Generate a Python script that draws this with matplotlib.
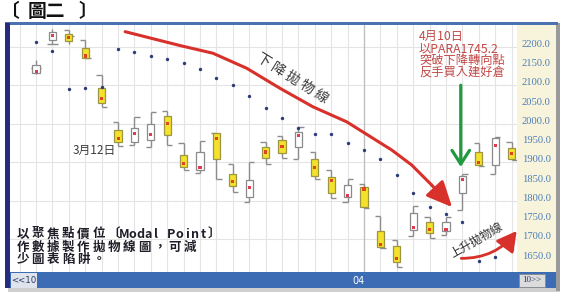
import matplotlib
matplotlib.use('Agg')
import matplotlib.pyplot as plt
from matplotlib.patches import Rectangle
import numpy as np

# ---------------- data ----------------
highs = [2165, 2246, 2243, 2217, 2126, 2005, 2018, 2030, 2033, 1950,
         1955, 1975, 1897, 1900, 1953, 1969, 1992, 1927, 1880, 1856,
         1843, 1761, 1698, 1787, 1759, 1759, 1869, 1949, 1966, 1953]
box_tops = [2152, 2238, 2232, 2197, 2092, 1984, 1990, 1999, 2021, 1919,
            1926, 1975, 1871, 1854, 1940, 1958, 1978, 1908, 1861, 1841,
            1837, 1722, 1683, 1768, 1744, 1746, 1864, 1927, 1962, 1936]
box_bottoms = [2131, 2217, 2215, 2170, 2053, 1952, 1952, 1958, 1972, 1889,
               1880, 1910, 1839, 1809, 1912, 1923, 1940, 1865, 1820, 1811,
               1785, 1681, 1642, 1724, 1718, 1722, 1820, 1893, 1894, 1910]
modal = [2135, 2230, 2223, 2176, 2066, 1962, 1975, 1973, 2001, 1896,
         1887, 1962, 1850, 1834, 1927, 1942, 1969, 1886, 1854, 1815,
         1831, 1688, 1651, 1730, 1727, 1727, 1856, 1899, 1943, 1923]
lows = [2128, 2206, 2206, 2170, 2044, 1942, 1945, 1940, 1944, 1879,
        1872, 1858, 1824, 1796, 1897, 1912, 1908, 1857, 1807, 1798,
        1781, 1677, 1629, 1710, 1703, 1711, 1776, 1890, 1871, 1906]
opens = [2145, 2206, 2243, 2217, 2126, 2005, 1945, 1940, 2033, 1950,
         1872, 1975, 1897, 1796, 1953, 1969, 1908, 1927, 1880, 1798,
         1843, 1761, 1698, 1710, 1759, 1711, 1776, 1949, 1871, 1953]
closes = [2145, 2206, 2228, 2170, 2044, 1942, 2018, 2030, 1944, 1879,
          1955, 1858, 1824, 1900, 1897, 1912, 1992, 1857, 1807, 1856,
          1781, 1677, 1629, 1787, 1703, 1759, 1869, 1890, 1966, 1906]
direction = ['up', 'up', 'down', 'down', 'down', 'down', 'up', 'up', 'down', 'down',
             'up', 'down', 'down', 'up', 'down', 'down', 'up', 'down', 'down', 'up',
             'down', 'down', 'down', 'up', 'down', 'up', 'up', 'down', 'up', 'down']
sar = [2213, 2189, 2090, 2092, 2095, 2194, 2185, 2176, 2168, 2158,
       2142, 2119, 2100, 2073, 2042, 2014, 1988, 1973, 1973, 1951,
       1932, 1908, 1867, 1821, 1785, 1765, 1745.2, 1645, 1655, 1674]
price_ticks = [2200, 2150, 2100, 2050, 2000, 1950, 1900, 1850, 1800, 1750, 1700, 1650]
price_labels = ['2200.0', '2150.0', '2100.0', '2050.0', '2000.0', '1950.0',
                '1900.0', '1850.0', '1800.0', '1750.0', '1700.0', '1650.0']
grid_levels = [1700, 1800, 1900, 2000, 2100, 2200]
month_label = '04'
month_start_index = 20

# ---------------- figure ----------------
W, H = 566, 297
fig = plt.figure(figsize=(W / 100, H / 100), dpi=100)
fig.patch.set_facecolor('white')
CJK = ['Noto Sans CJK TC', 'DejaVu Sans']


def fx(x):
    return x / W


def fy(y):
    return 1 - y / H


YLIM = (1615.6, 2256.3)
ax = fig.add_axes([fx(10), fy(272), (517 - 10) / W, (272 - 25) / H])
ax.set_xlim(-1.59, 29.33)
ax.set_ylim(*YLIM)
for s in ax.spines.values():
    s.set_visible(False)
ax.set_xticks(np.arange(-1, 30))
ax.set_yticks(grid_levels)
ax.tick_params(length=0, labelbottom=False, labelleft=False)
ax.grid(True, color='#e4e4e4', lw=0.8)
ax.set_axisbelow(True)
ax.axvline(month_start_index, color='#bdbdbd', lw=0.9, zorder=1)

x = np.arange(len(highs))
is_up = np.array([d == 'up' for d in direction])
fills = np.where(is_up, '#ffffff', '#f3e12b')
edges = np.where(is_up, '#8a8a8a', '#9c9643')
dotc = np.where(is_up, '#e23b4f', '#e0461e')

ax.vlines(x, lows, highs, color='#8c8c8c', lw=1.0, zorder=2)
ax.hlines(opens, x - 0.32, x, color='#8c8c8c', lw=1.0, zorder=2)
ax.hlines(closes, x, x + 0.32, color='#8c8c8c', lw=1.0, zorder=2)
ax.bar(x, np.array(box_tops) - np.array(box_bottoms), bottom=box_bottoms,
       width=0.44, color=fills, edgecolor=edges, linewidth=0.9, zorder=3)
ax.scatter(x, modal, marker='s', s=5, c=dotc, linewidths=0, zorder=4)
ax.scatter(x, sar, marker='o', s=6, c='#2d3b78', linewidths=0, zorder=4)

RED = '#d8302a'
# descending parabola guide
curve_x = [5.43, 8.78, 10.79, 12.85, 14.88, 16.89, 18.95, 21.69, 22.91, 24.13]
curve_y = [2239, 2203, 2183, 2144, 2092, 2044, 2005, 1932, 1893, 1841]
ax.plot(curve_x, curve_y, color=RED, lw=2.2, solid_capstyle='round',
        solid_joinstyle='round', zorder=5)
ax.annotate('', xy=(25.37, 1784), xytext=(24.13, 1841),
            arrowprops=dict(arrowstyle='-|>,head_length=1.3,head_width=0.6',
                            color=RED, lw=2.2, mutation_scale=12,
                            shrinkA=0, shrinkB=0), zorder=5)
ax.text(15.64, 2119, '下 降 拋 物 線', rotation=-32, rotation_mode='anchor',
        ha='center', va='center', fontsize=10, color='#3a3a3a', family=CJK)

# green arrow
ax.annotate('', xy=(25.9, 1888), xytext=(25.9, 2100),
            arrowprops=dict(arrowstyle='->,head_length=0.7,head_width=0.45',
                            color='#1f9a3f', lw=2.3, mutation_scale=14,
                            shrinkA=0, shrinkB=0), zorder=5)

# ascending arrow
ax.annotate('', xy=(29.31, 1722), xytext=(25.93, 1651),
            arrowprops=dict(arrowstyle='-|>,head_length=1.0,head_width=0.55',
                            color=RED, lw=2.0, mutation_scale=12,
                            connectionstyle='arc3,rad=0.25',
                            shrinkA=0, shrinkB=0), zorder=5)
ax.text(26.87, 1699, '上升拋物線', rotation=30, rotation_mode='anchor',
        ha='center', va='center', fontsize=8.5, color='#2e2e2e', family=CJK)

ax.text(3.54, 1932, '3月12日', ha='center', va='center', fontsize=8.5,
        color='#3c3c3c', family=CJK)

note = ['4月10日', '以PARA1745.2', '突破下降轉向點', '反手買入建好倉']
for txt, py in zip(note, [2226, 2194, 2163, 2133]):
    ax.text(23.35, py, txt, ha='left', va='center', fontsize=8.8,
            color='#c24a48', family=CJK)

# right price panel
axr = fig.add_axes([fx(517), fy(272), (556 - 517) / W, (272 - 25) / H])
axr.set_facecolor('#f8f4dc')
axr.set_xlim(0, 1)
axr.set_ylim(*YLIM)
for s in axr.spines.values():
    s.set_visible(False)
axr.set_xticks([])
axr.set_yticks([])
for p, lab in zip(price_ticks, price_labels):
    axr.text(0.49, p, lab, ha='center', va='baseline', fontsize=7.6,
             family='Liberation Serif', color='#4b7db8')

# frame decorations
def rect(x0, y0, x1, y1, color, **kw):
    fig.add_artist(Rectangle((fx(x0), fy(y1)), (x1 - x0) / W, (y1 - y0) / H,
                             transform=fig.transFigure, facecolor=color,
                             edgecolor=kw.pop('edgecolor', 'none'),
                             lw=kw.pop('lw', 0), **kw))

rect(8, 288, 560, 292, '#cfcfcf')
rect(556, 23, 560, 291, '#9a9a9a')
rect(5, 22, 558, 24.5, '#4a72b0')
rect(10, 272, 556, 288, '#3c6db4')
rect(5, 23, 10, 288, '#262b7c')
rect(10.5, 273, 37, 287.5, '#dfe3eb')
rect(519, 273.5, 545, 287, '#dcdcdc', edgecolor='#8a8a8a', lw=0.6)
fig.text(fx(23.5), fy(280.5), '<<10', fontsize=6.2, color='#2b3a6a',
         ha='center', va='center')
fig.text(fx(532), fy(280.5), '10>>', fontsize=6.5, color='#2b3a6a',
         ha='center', va='center', family='Liberation Serif')
fig.text(fx(358), fy(280.5), month_label, fontsize=7, color='white',
         ha='center', va='center')

# title
fig.text(fx(0.5), fy(11.5), '〔', fontsize=13.5, ha='left', va='center',
         family=CJK, color='#111111', fontweight='bold')
fig.text(fx(46), fy(11.5), '圖二', fontsize=13.5, ha='center', va='center',
         family=CJK, color='#111111', fontweight='bold')
fig.text(fx(88), fy(11.5), '〕', fontsize=13.5, ha='center', va='center',
         family=CJK, color='#111111', fontweight='bold')

# bottom-left bold note, monospaced-style placement
def mono_line(x0, yc, s):
    xx = x0
    for ch in s:
        if ch in '〔〕':
            w = 14
        elif ord(ch) < 128:
            w = 7.9
        else:
            w = 15.2
        if ch != ' ':
            fig.text(fx(xx + w / 2), fy(yc), ch, ha='center', va='center',
                     fontsize=9, fontweight='bold', family=CJK, color='#1e1e28')
        xx += w

mono_line(15, 234, '以聚焦點價位〔Modal Point〕')
mono_line(15, 247, '作數據製作拋物線圖，可減')
mono_line(15, 259, '少圖表陷阱。')

fig.savefig('out.png', dpi=100, facecolor='white')
